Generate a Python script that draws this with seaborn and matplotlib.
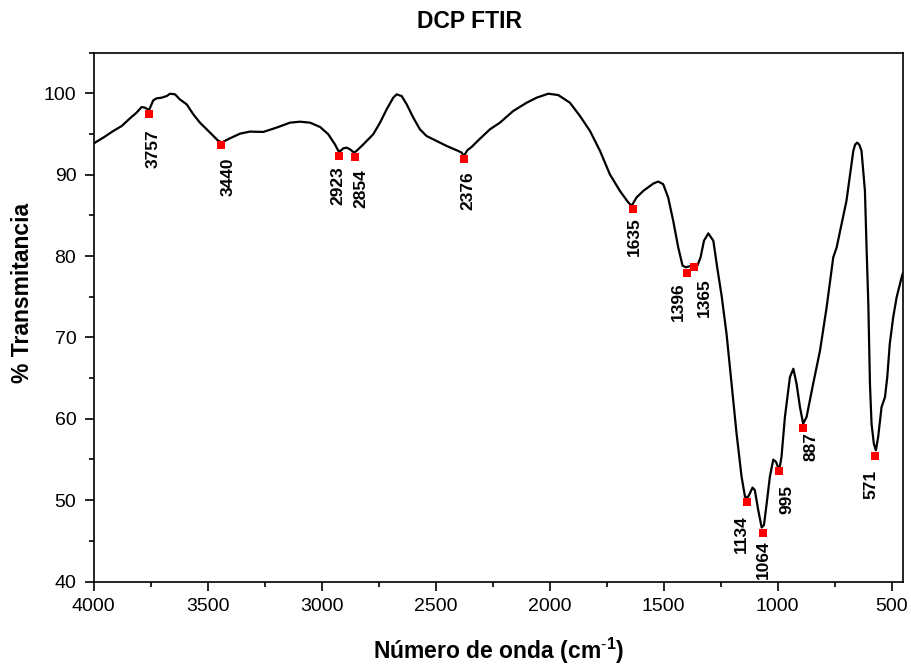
import matplotlib
matplotlib.use("Agg")
import matplotlib.pyplot as plt
from matplotlib.ticker import MultipleLocator
import numpy as np
import pandas as pd
import seaborn as sns

# FTIR spectrum of DCP: wavenumber (cm-1) and % transmittance
wavenumber = [4000, 3994, 3958, 3914, 3877, 3841, 3812, 3790, 3775, 3757, 3739, 3724,
              3702, 3680, 3665, 3643, 3622, 3592, 3563, 3534, 3497, 3456, 3439, 3402,
              3358, 3315, 3256, 3198, 3139, 3095, 3051, 3007, 2971, 2942, 2927, 2917,
              2905, 2891, 2876, 2858, 2847, 2817, 2774, 2744, 2715, 2686, 2671, 2649,
              2627, 2598, 2569, 2540, 2496, 2452, 2408, 2386, 2376, 2361, 2342, 2313,
              2262, 2218, 2160, 2101, 2057, 2006, 1962, 1911, 1867, 1823, 1779, 1736,
              1692, 1655, 1640, 1619, 1589, 1545, 1524, 1502, 1480, 1458, 1436, 1417,
              1402, 1377, 1352, 1338, 1323, 1304, 1282, 1265, 1246, 1224, 1202, 1180,
              1158, 1143, 1129, 1110, 1100, 1085, 1070, 1060, 1048, 1034, 1019, 1007,
              993, 983, 968, 946, 931, 917, 902, 888, 873, 844, 814, 785,
              756, 741, 698, 668, 660, 651, 642, 632, 617, 610, 602, 595, 588, 578,
              569, 559, 544, 529, 519, 508, 493, 478, 456, 450]
transmittance = [93.8, 93.95, 94.56, 95.38, 95.99, 96.93, 97.63, 98.32, 98.24, 97.95, 99.14, 99.39,
                 99.47, 99.67, 99.96, 99.88, 99.26, 98.65, 97.42, 96.40, 95.38, 94.23, 93.95, 94.48,
                 95.05, 95.30, 95.26, 95.79, 96.40, 96.52, 96.40, 95.87, 94.97, 93.74, 92.93, 92.93,
                 93.25, 93.33, 93.13, 92.72, 92.93, 93.74, 94.97, 96.40, 98.04, 99.47, 99.88, 99.67,
                 98.65, 97.01, 95.58, 94.76, 94.15, 93.54, 93.01, 92.72, 92.31, 93.01, 93.42, 94.23,
                 95.58, 96.40, 97.83, 98.85, 99.47, 99.96, 99.79, 98.85, 97.22, 95.38, 92.93, 90.06,
                 88.02, 86.59, 86.18, 87.20, 88.02, 88.92, 89.16, 88.84, 87.20, 84.34, 81.07, 78.82,
                 78.62, 78.82, 78.82, 79.84, 81.89, 82.79, 81.89, 78.60, 75.20, 70.44, 64.31, 58.17,
                 52.86, 50.40, 50.40, 51.55, 51.22, 48.77, 46.64, 46.93, 49.59, 52.86, 54.98, 54.70,
                 53.68, 55.31, 60.22, 65.12, 66.15, 64.31, 61.44, 59.40, 60.22, 64.31, 68.39, 73.71,
                 79.84, 81.07, 86.79, 92.93, 93.70, 93.95, 93.70, 92.93, 88.02, 81.20, 74.00, 64.31,
                 59.40, 56.95, 56.13, 57.76, 61.44, 62.67, 65.12, 69.21, 72.48, 74.93, 77.39, 77.95]

# Labelled absorption bands
peak_wavenumber = [3757, 3440, 2923, 2854, 2376, 1635, 1396, 1365, 1134, 1064, 995, 887, 571]
peak_transmittance = [97.43, 93.66, 92.31, 92.19, 91.90, 85.77, 77.96, 78.61, 49.79, 45.91,
                      53.55, 58.91, 55.43]
peak_labels = [str(v) for v in peak_wavenumber]

x_ticks = [4000, 3500, 3000, 2500, 2000, 1500, 1000, 500]
y_ticks = [40, 50, 60, 70, 80, 90, 100]

# label placement (pixels): horizontal shift, gap below the marker
label_shift = {3757: (2.6, 14.7), 3440: (5.3, 12.7), 2923: (-2.6, 10.0), 2854: (4.3, 12.3),
               2376: (2.7, 11.7), 1635: (0.4, 8.4), 1396: (-10.7, 9.7), 1365: (8.2, 11.3),
               1134: (-7.1, 13.3), 1064: (-1.4, 6.7), 995: (6.2, 14.0), 887: (6.5, 4.7),
               571: (-5.5, 14.3)}

sns.set_theme(style="ticks")
plt.rcParams["font.family"] = ["Liberation Sans", "DejaVu Sans"]
plt.rcParams["mathtext.fontset"] = "custom"
plt.rcParams["mathtext.rm"] = "Liberation Sans"
plt.rcParams["mathtext.bf"] = "Liberation Sans:bold"
for key in ("text.color", "axes.labelcolor", "xtick.color", "ytick.color",
            "axes.edgecolor", "xtick.labelcolor", "ytick.labelcolor"):
    plt.rcParams[key] = "black"

spectrum = pd.DataFrame({"wn": wavenumber, "T": transmittance})
peaks = pd.DataFrame({"wn": peak_wavenumber, "T": peak_transmittance})

W, H = 912, 667
fig = plt.figure(figsize=(W / 100, H / 100), dpi=100)
fig.patch.set_facecolor("white")
L, R, T, B = 93.7, 903.0, 52.7, 581.5
ax = fig.add_axes([L / W, 1 - B / H, (R - L) / W, (B - T) / H])
ax.set_facecolor("white")

sns.lineplot(data=spectrum, x="wn", y="T", sort=False, estimator=None,
             color="black", linewidth=1.6, ax=ax)
sns.scatterplot(data=peaks, x="wn", y="T", marker="s", color="#ff0000",
                s=34, linewidth=0, zorder=5, ax=ax)

px2pt = 72 / 100
for wn, tr, lab in zip(peak_wavenumber, peak_transmittance, peak_labels):
    dx, dy = label_shift[wn]
    ax.annotate(lab, xy=(wn, tr), xytext=((dx + 1.5) * px2pt, -dy * px2pt),
                textcoords="offset points", rotation=90, ha="center", va="top",
                fontsize=12.5, fontweight="bold", color="black")

ax.set_xlim(4000, 450)
ax.set_ylim(40, 105)
ax.set_xticks(x_ticks)
ax.set_yticks(y_ticks)
ax.xaxis.set_minor_locator(MultipleLocator(250))
ax.yaxis.set_minor_locator(MultipleLocator(5))
ax.set_xlabel("")
ax.set_ylabel("")

for sp in ax.spines.values():
    sp.set_visible(True)
    sp.set_linewidth(1.2)
    sp.set_color("black")

ax.tick_params(axis="both", which="major", direction="out", length=6.5, width=1.2,
               colors="black", labelsize=14)
ax.tick_params(axis="both", which="minor", direction="out", length=3.8, width=1.2,
               colors="black")
ax.tick_params(axis="x", which="major", pad=5.5)
ax.tick_params(axis="y", which="major", pad=6)
ax.tick_params(top=False, right=False, which="both")

fig.text(470 / W, 1 - 22 / H, "DCP FTIR", ha="center", va="center",
         fontsize=16.5, fontweight="bold", color="black")
fig.text(499 / W, 1 - 651 / H, r"Número de onda (cm$^{\mathbf{\text{-}1}}$)", ha="center",
         va="center", fontsize=16.5, fontweight="bold", color="black")
fig.text(23 / W, 1 - 293 / H, "% Transmitancia", ha="center", va="center",
         rotation=90, fontsize=16.5, fontweight="bold", color="black")

fig.savefig("out.png", dpi=100, facecolor="white")
